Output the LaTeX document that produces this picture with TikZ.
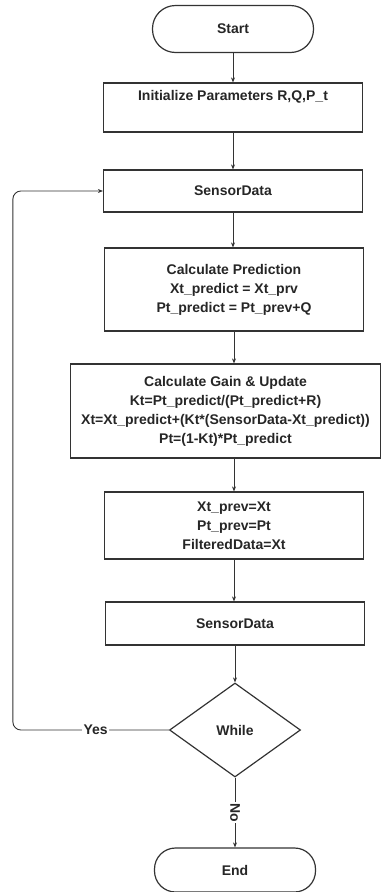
\documentclass[tikz,border=0pt]{standalone}
\usepackage{fontspec}
\setmainfont{Liberation Sans}
\usetikzlibrary{shapes.geometric,arrows.meta}

\begin{document}
\begin{tikzpicture}[
  x=1pt, y=-1pt,
  font=\bfseries\fontsize{14}{19}\selectfont,
  text=black!85,
  terminal/.style={rectangle, rounded corners=23pt, draw=black!80, line width=1.2pt, minimum width=161pt, minimum height=47pt},
  process/.style={rectangle, draw=black!80, line width=1.2pt, align=center, minimum width=259pt},
  decision/.style={diamond, draw=black!80, line width=1.2pt, minimum width=131pt, minimum height=94pt, inner sep=0pt},
  flow/.style={-{Stealth[length=5pt,width=4pt]}, line width=0.9pt, draw=black!80},
  tag/.style={fill=white, inner sep=1.5pt}
]
\useasboundingbox (0,0) rectangle (381,892);

\node[terminal] (start) at (233, 29) {Start};
\node[process, minimum height=49pt] (init) at (233, 107.5) {Initialize Parameters R,Q,P\_t\\ \strut};
\node[process, minimum height=42pt] (read1) at (233, 191) {SensorData};
\node[process, minimum height=83pt] (predict) at (234, 289.5)
  {Calculate Prediction\\ Xt\_predict = Xt\_prv\\ Pt\_predict = Pt\_prev+Q};
\node[process, minimum height=94pt, minimum width=310pt] (update) at (225.5, 411)
  {Calculate Gain \& Update\\ Kt=Pt\_predict/(Pt\_predict+R)\\
   Xt=Xt\_predict+(Kt*(SensorData-Xt\_predict))\\ Pt=(1-Kt)*Pt\_predict};
\node[process, minimum height=67pt] (store) at (234, 525.5)
  {Xt\_prev=Xt\\ Pt\_prev=Pt\\ FilteredData=Xt};
\node[process, minimum height=43pt] (read2) at (235, 623.5) {SensorData};
\node[decision] (loop) at (235, 730) {While};
\node[terminal, minimum height=44pt, rounded corners=21pt] (stop) at (235, 870) {End};

% main flow
\draw[flow] (start.south) -- (start.south |- init.north);
\draw[flow] (init.south) -- (init.south |- read1.north);
\draw[flow] (read1.south) -- (read1.south |- predict.north);
\draw[flow] (predict.south) -- (predict.south |- update.north);
\draw[flow] (store.north |- update.south) -- (store.north);
\draw[flow] (store.south) -- (store.south |- read2.north);
\draw[flow] (read2.south) -- (read2.south |- loop.north);

% branches
\draw[flow, rounded corners=8pt] (loop.west) -- node[tag, pos=0.47] {Yes} ++(-156,0) |- (read1.west);
\draw[flow] (loop.south) -- node[tag, rotate=-90] {No} (stop.north);
\end{tikzpicture}
\end{document}
